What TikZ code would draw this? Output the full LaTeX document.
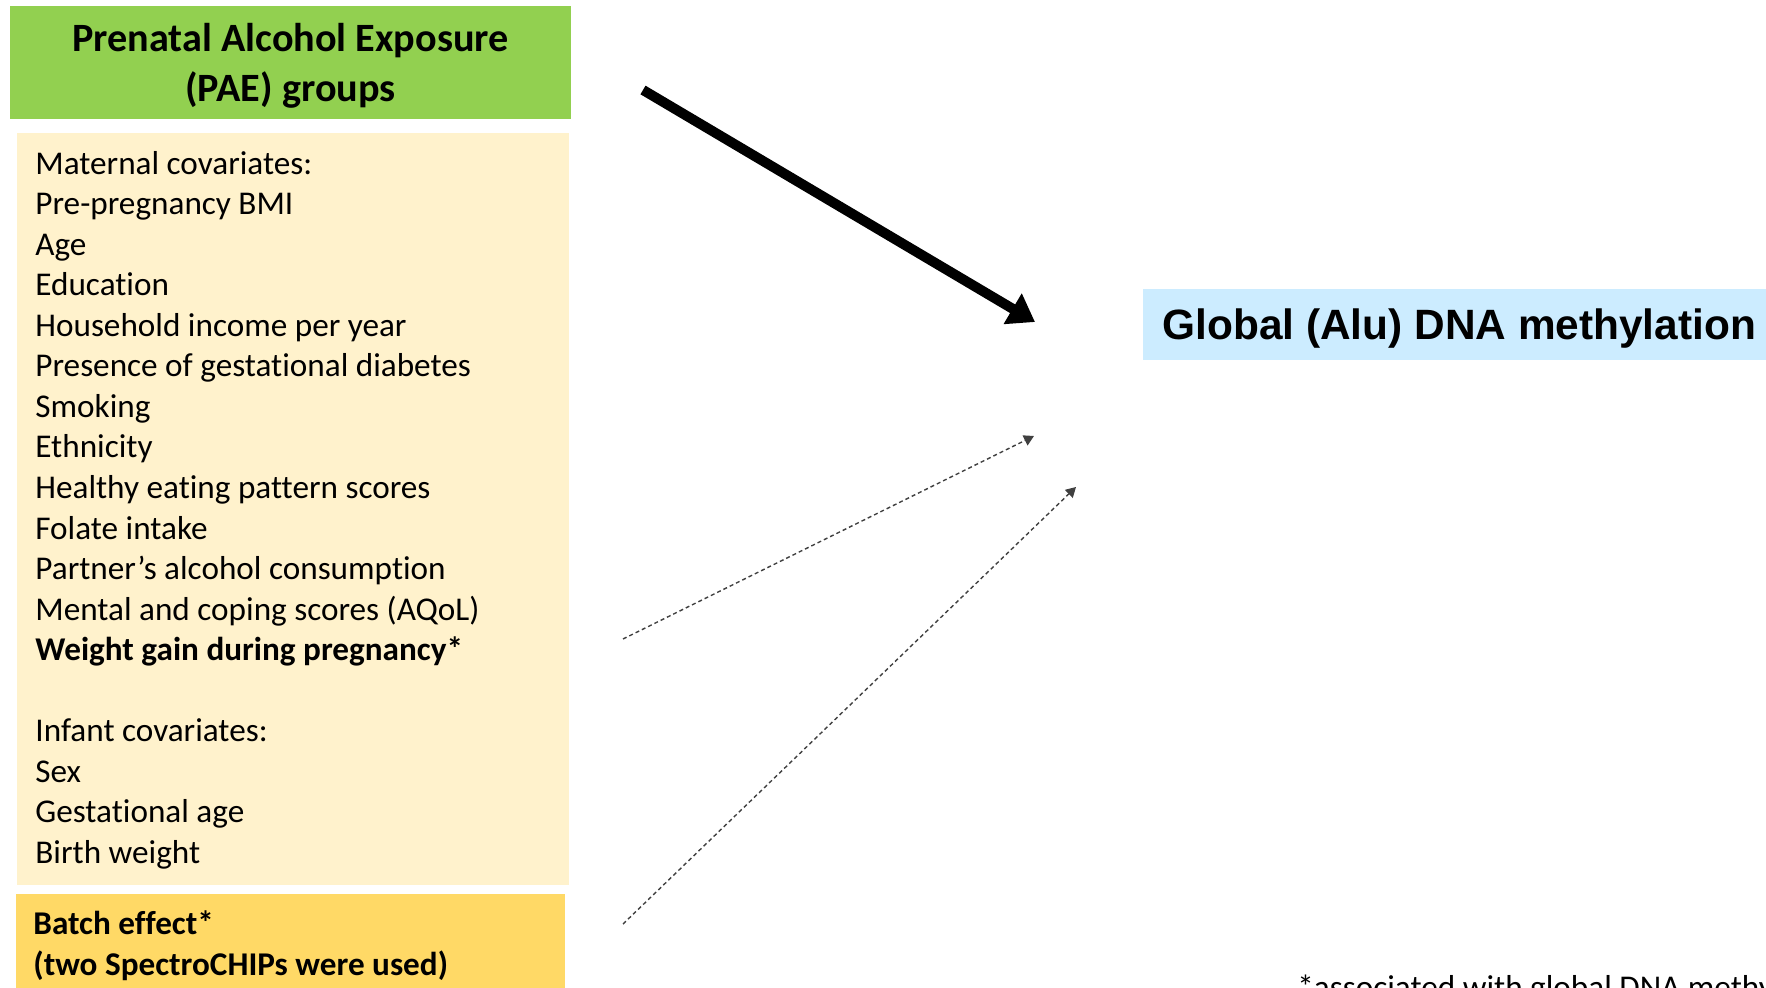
\documentclass[tikz,border=0pt]{standalone}
\usepackage{fontspec}
\setmainfont{Carlito}[Ligatures=CommonOff]
\newfontfamily\arialfont{Liberation Sans}
\usetikzlibrary{arrows.meta}
\definecolor{paegreen}{HTML}{92D050}
\definecolor{covcream}{HTML}{FFF2CC}
\definecolor{batchyellow}{HTML}{FFD966}
\definecolor{alublue}{HTML}{CCECFF}

\begin{document}
\begin{tikzpicture}[x=0.5pt,y=-0.5pt,
		listfont/.style={font=\fontsize{16.6}{20.25}\selectfont},
		item/.style={listfont,anchor=base west,inner sep=0pt},
		dotarrow/.style={draw=black!75,line width=0.7pt,dash pattern=on 2pt off 1.5pt,
			-{Triangle[length=5pt,width=5.5pt]}}]
		\useasboundingbox (0,0) rectangle (1766,988);
		\clip (0,0) rectangle (1766,988);
		\node[fill=paegreen,minimum width=280.5pt,minimum height=56.5pt,inner sep=0pt]
			(pae) at (290.5,62.5) {};
		\node[align=center,inner sep=0pt,font=\fontsize{20.1}{24.75}\selectfont\bfseries]
			(paetxt) at (290.5,66) {Prenatal Alcohol Exposure\\(PAE) groups};
		\node[fill=covcream,minimum width=276pt,minimum height=376pt,inner sep=0pt]
			(cov) at (293,509) {};
		\foreach \r/\txt in {0/Maternal covariates:,1/Pre-pregnancy BMI,2/Age,3/Education,
				4/Household income per year,5/Presence of gestational diabetes,6/Smoking,
				7/Ethnicity,8/Healthy eating pattern scores,9/Folate intake,
				10/Partner’s alcohol consumption,11/Mental and coping scores (AQoL),
				12/{\bfseries Weight gain during pregnancy*},
				14/Infant covariates:,15/Sex,16/Gestational age,17/Birth weight}
			\node[item] (cov\r) at (35,{174.5+40.5*\r}) {\txt};
		\node[fill=batchyellow,minimum width=274.5pt,minimum height=65pt,inner sep=0pt]
			(batch) at (290.5,959) {};
		\node[item,font=\fontsize{16.6}{20.25}\selectfont\bfseries] (batch1) at (33,934) {Batch effect*};
		\node[item,font=\fontsize{16.6}{20.25}\selectfont\bfseries] (batch2) at (33,975) {(two SpectroCHIPs were used)};
		\node[fill=alublue,anchor=west,minimum width=320pt,minimum height=35.5pt,inner sep=0pt]
			(alu) at (1143,324.5) {};
		\node[anchor=west,inner xsep=9.5pt,inner ysep=0pt,
			font=\arialfont\bfseries\fontsize{21.2}{25}\selectfont]
			(alutxt) at (1143,329) {Global (Alu) DNA methylation};
		\node[item] (note) at (1297,998) {*associated with global DNA methylation};
		\coordinate (paetail) at (643,90);
		\coordinate (paehead) at (1035,322);
		\coordinate (covtail) at (623,639);
		\coordinate (covhead) at (1034,436);
		\coordinate (batchtail) at (623,924);
		\coordinate (batchhead) at (1076,487);
		\draw[line width=5pt,-{Triangle[length=13pt,width=17pt]}] (paetail)--(paehead);
		\draw[dotarrow] (covtail)--(covhead);
		\draw[dotarrow] (batchtail)--(batchhead);
	\end{tikzpicture}
\end{document}
